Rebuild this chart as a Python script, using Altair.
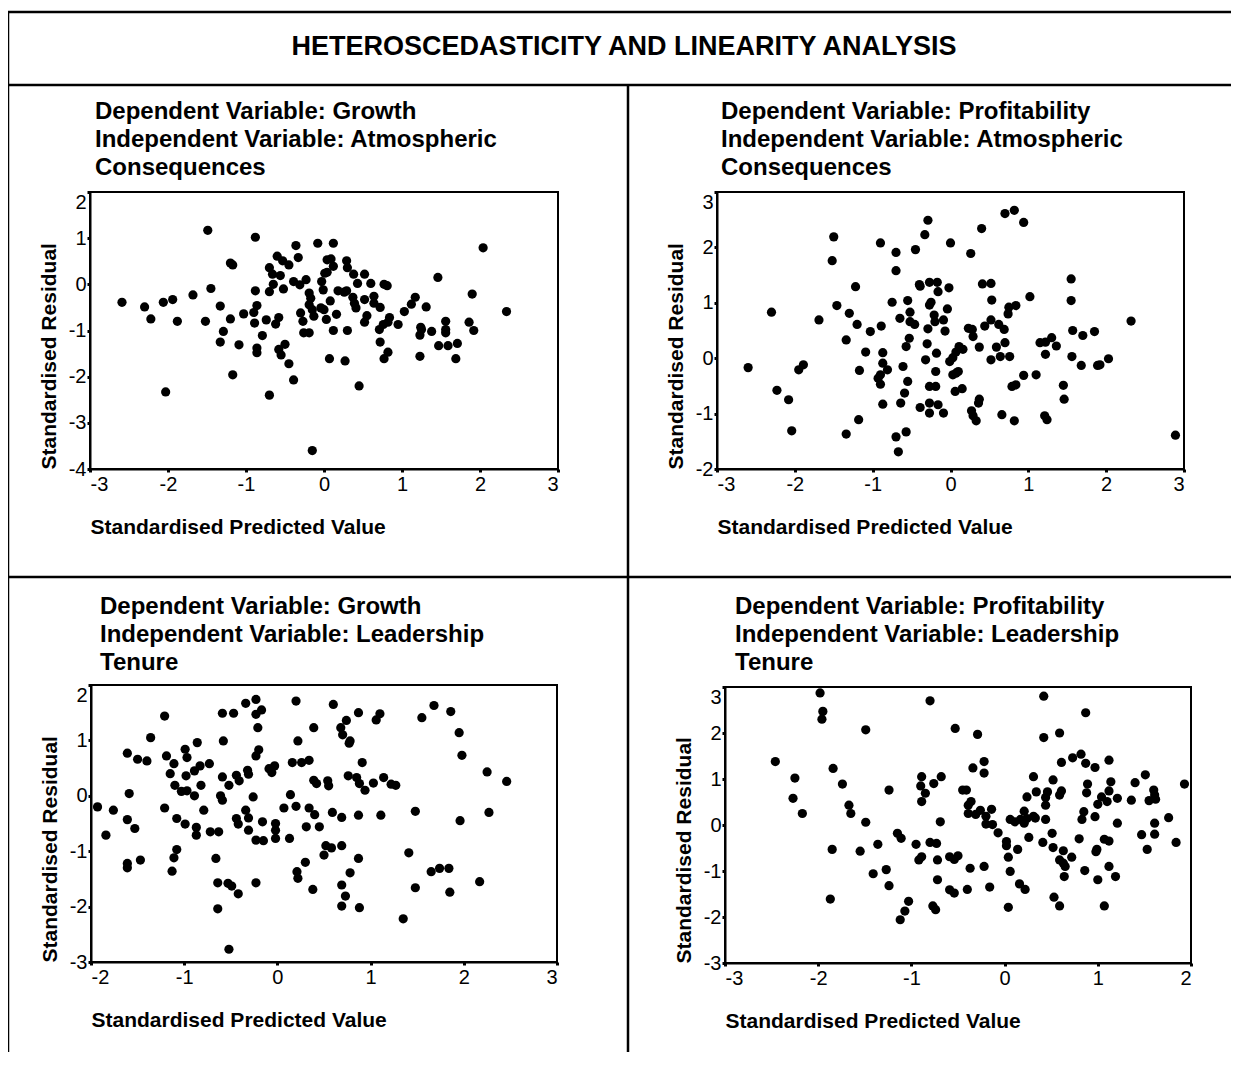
import altair as alt
import pandas as pd

# ---------------- data ----------------
# Panel 1: Dependent Growth, Independent Atmospheric Consequences
p1_x = [-2.59, -2.30, -2.22, -2.06, -1.94, -1.88, -2.03, -1.68, -1.52, -1.45, -1.49, -1.33, -1.29, -1.33,
        -1.20, -1.20, -1.17, -1.09, -1.17, -1.03, -0.88, -0.88, -0.86, -0.90, -0.89, -0.86, -0.86, -0.79,
        -0.74, -0.70, -0.70, -0.70, -0.66, -0.65, -0.60, -0.58, -0.62, -0.52, -0.56, -0.53, -0.45, -0.58,
        -0.55, -0.50, -0.45, -0.39, -0.36, -0.33, -0.39, -0.31, -0.23, -0.30, -0.27, -0.26, -0.19, -0.17,
        -0.19, -0.15, -0.13, -0.19, -0.15,
        -0.08, 0.12, 0.04, 0.09, 0.12, 0.01, 0.04, -0.03, -0.01, 0.08, -0.04, 0.00, 0.03, 0.16, 0.12, 0.30,
        0.29, 0.30, 0.38, 0.52, 0.43, 0.60, 0.77, 0.81, 0.18, 0.26, 0.29, 0.37, 0.39, 0.41, 0.52, 0.64, 0.64,
        0.72, 0.55, 0.52, 0.84, 0.82, 0.76, 0.71, 0.95, 0.72, 0.82, 0.77, 0.07, 0.27, 0.45, 1.03, 1.12, 1.17,
        1.31, 1.46, 1.24, 1.25, 1.23, 1.38, 1.56, 1.56, 1.56, 1.23, 1.47, 1.59, 1.71, 1.69, 1.86, 1.92, 1.90,
        2.04, 2.34]
p1_y = [-0.39, -0.49, -0.75, -0.39, -0.33, -0.80, -2.33, -0.23, -0.80, -0.09, 1.17, -0.47, -1.02, -1.25,
        -0.75, 0.46, 0.42, -1.31, -1.96, -0.64, 1.02, -0.14, -0.46, -0.61, -0.84, -1.38, -1.48, -1.11,
        -0.77, -2.40, -0.16, 0.36, 0.22, 0.00, 0.61, -0.72, -0.86, -0.10, 0.19, 0.51, 0.42, -1.41,
        -1.53, -1.30, -1.72, -2.07, 0.84, 0.58, 0.06, -0.01, 0.10, -0.62, -0.80, -1.05, -0.19, -0.30,
        -0.44, -0.55, -0.69, -1.05, -3.60,
        0.89, 0.89, 0.53, 0.55, 0.39, 0.24, 0.26, 0.06, -0.12, -0.36, -0.51, -0.55, -0.76, -0.65, -1.00, -1.00,
        0.51, 0.36, 0.22, 0.22, 0.02, 0.02, 0.00, -0.03, -0.14, -0.17, -0.14, -0.28, -0.41, -0.51, -0.33, -0.26,
        -0.41, -0.50, -0.68, -0.82, -0.72, -0.82, -0.87, -0.98, -0.87, -1.25, -1.47, -1.61, -1.61, -1.66, -2.20,
        -0.59, -0.43, -0.28, -0.49, 0.15, -0.93, -0.98, -1.10, -1.02, -0.80, -0.98, -1.05, -1.56, -1.33, -1.33,
        -1.28, -1.61, -0.82, -1.00, -0.21, 0.79, -0.59]

# Panel 2: Dependent Profitability, Independent Atmospheric Consequences
p2_x = [-2.60, -2.30, -2.23, -2.08, -2.04, -1.95, -1.89, -1.69, -1.52, -1.50, -1.46, -1.34, -1.34, -1.30,
        -1.22, -1.20, -1.17, -1.18, -1.09, -1.03, -0.90, -0.89, -0.93, -0.90, -0.90, -0.87, -0.87, -0.81,
        -0.87, -0.75, -0.70, -0.70, -0.65, -0.61, -0.57, -0.55, -0.59, -0.64, -0.70, -0.67, -0.57, -0.55,
        -0.52, -0.52, -0.46, -0.53, -0.45, -0.39, -0.40, -0.39, -0.33, -0.29, -0.27, -0.17, -0.16, -0.27,
        -0.25, -0.21, -0.20, -0.29, -0.30, -0.32, -0.18, -0.19, -0.27, -0.19, -0.27, -0.27, -0.16,
        0.00, 0.26, 0.40, 0.70, 0.82, 0.94, -0.09, -0.02, -0.04, -0.09, -0.07,
        -0.01, 0.03, 0.07, 0.11, 0.16, 0.03, 0.07, 0.10, 0.06, 0.15, 0.23, 0.28, 0.29, 0.37,
        0.41, 0.52, 0.53, 0.44, 0.52, 0.62, 0.69, 0.59, 0.64, 0.52, 0.76, 0.70, 0.75, 0.84, 0.74, 1.02,
        0.37, 0.36, 0.27, 0.29, 0.33, 0.66, 0.82, 0.79, 0.84, 0.94, 1.10, 1.15, 1.22, 1.30, 1.36, 1.22,
        1.21, 1.24, 1.45, 1.46, 1.55, 1.55, 1.57, 1.70, 1.56, 1.68, 1.85, 1.89, 1.92, 2.03, 2.32, 2.89]
p2_y = [-0.17, 0.83, -0.58, -0.75, -1.31, -0.21, -0.12, 0.69, 1.76, 2.19, 0.95, 0.33, -1.37, 0.81,
        1.29, 0.61, -0.22, -1.11, 0.11, 0.48, 2.08, 0.58, -0.36, -0.30, -0.47, 0.10, -0.09, -0.21,
        -0.83, 1.01, 1.91, 1.58, 0.72, -0.15, 0.21, -0.42, -0.63, -0.81, -1.42, -1.69, -1.33, 1.04,
        0.83, 0.66, 0.61, 0.36, 1.96, -0.89, 1.33, 1.30, 2.23, 2.49, 1.37, 1.37, 1.20, 0.96,
        1.01, 0.78, 0.66, 0.53, 0.26, -0.03, 0.09, -0.24, -0.51, -0.51, -0.81, -0.99, -0.84,
        2.08, 1.89, 2.34, 2.61, 2.67, 2.45, -0.99, 1.27, 0.89, 0.69, 0.49,
        -0.06, 0.01, 0.11, 0.21, 0.16, -0.30, -0.27, -0.24, -0.60, -0.55, 0.54, 0.52, 0.39, 0.20,
        1.34, 1.35, 1.05, 0.58, 0.69, 0.61, 0.52, 0.20, 0.03, -0.03, 0.03, 0.28, 0.92, 0.95, 0.80, 1.11,
        -0.74, -0.81, -0.95, -1.04, -1.13, -1.02, -1.13, -0.51, -0.48, -0.31, -0.30, 0.28, 0.29, 0.37, 0.22, 0.07,
        -1.04, -1.11, -0.49, -0.74, 1.43, 1.04, 0.50, 0.41, 0.03, -0.13, 0.48, -0.13, -0.12, -0.01, 0.67, -1.39]

# Panel 3: Dependent Growth, Independent Leadership Tenure
p3_x = [-1.93, -1.84, -1.76, -1.61, -1.59, -1.61, -1.53, -1.61, -1.61, -1.50, -1.40, -1.47, -1.36, -1.21,
        -1.19, -1.11, -1.15, -1.10, -1.21, -1.08, -1.08, -1.11, -1.13, -0.99, -0.97, -0.98, -1.03, -0.97,
        -0.89, -0.99, -0.86, -0.89, -0.83, -0.82, -0.79, -0.87, -0.87, -0.73, -0.72, -0.63, -0.66, -0.64,
        -0.64, -0.59, -0.58, -0.59, -0.61, -0.59, -0.52, -0.53, -0.49, -0.42, -0.52, -0.47, -0.44, -0.41,
        -0.44, -0.42, -0.34, -0.32, -0.31, -0.34, -0.31, -0.31, -0.26, -0.23, -0.23, -0.17, -0.21, -0.23,
        -0.20, -0.23, -0.15, -0.23, -0.16, -0.09, -0.06, -0.03, -0.02, -0.02, -0.02, 0.07, 0.13, 0.14,
        0.16, 0.20, 0.22, 0.20, 0.21, 0.22, 0.26, 0.34, 0.30, 0.31, 0.34, 0.40, 0.39, 0.39, 0.42, 0.38,
        0.45, 0.60, 0.68, 0.70, 0.74, 0.77, 0.78, 0.87, 1.06, 1.10, 0.91, 0.76, 0.85, 0.88, 0.94, 1.03,
        0.54, 0.55, 1.14, 1.22, 1.27, 0.59, 0.69, 0.87, 1.11, 0.52, 0.58, 0.69, 0.50, 0.87, 0.78, 0.69,
        0.73, 0.69, 0.88, 1.48, 1.41, 1.48, 1.35, 1.55, 1.68, 1.86, 1.95, 1.98, 1.96, 1.65, 1.74, 1.84,
        1.85, 2.17, 2.25, 2.27, 2.46]
p3_y = [-0.20, -0.71, -0.26, 0.77, 0.04, -0.43, -0.59, -1.22, -1.30, 0.66, 0.63, -1.16, 1.05, 1.44,
        0.72, 0.58, 0.40, 0.19, -0.22, -0.41, -0.97, -1.12, -1.36, 0.84, 0.69, 0.36, 0.08, 0.09,
        0.00, -0.51, 0.96, 0.45, 0.54, 0.19, -0.26, -0.57, -0.71, 0.58, -0.65, -0.65, -1.13, -1.57,
        -2.04, 1.49, 0.99, 0.34, 0.00, -0.08, 0.19, -1.58, -1.63, -1.77, -2.77, 1.49, 0.37, 0.27,
        -0.41, -0.51, 1.67, 0.46, 0.39, -0.26, -0.40, -0.62, -0.02, 1.74, 1.47, 1.55, 1.23, 0.72,
        0.83, -0.80, -0.81, -1.57, -0.47, 0.49, 0.42, 0.54, -0.50, -0.62, -0.77, -0.22, -0.77, 0.02,
        0.60, 1.71, 0.99, -0.19, -1.37, -1.49, 0.60, 0.64, -1.20, -0.56, -0.22, -0.34, 1.23, 0.28, 0.22, -1.69,
        -0.56, 1.65, 1.23, 1.10, 1.36, 0.95, 0.99, 1.50, 1.37, 1.48, 0.60, 0.36, 0.33, 0.22, 0.10, 0.23,
        0.27, 0.18, 0.33, 0.21, 0.19, -0.30, -0.39, -0.35, -0.35, -0.90, -0.94, -0.90, -1.07, -1.13, -1.39, -1.61,
        -1.81, -1.99, -2.02, -0.28, -1.03, -1.66, -2.22, 1.41, 1.63, 1.52, 1.14, 0.73, -0.45, -1.37, -1.31, -1.31,
        -1.74, -1.55, 0.43, -0.30, 0.26]

# Panel 4: Dependent Profitability, Independent Leadership Tenure
p4_x = [-2.46, -2.25, -2.27, -2.17, -1.98, -1.95, -1.96, -1.84, -1.85, -1.87, -1.74, -1.67, -1.65, -1.49,
        -1.49, -1.55, -1.41, -1.36, -1.27, -1.24, -1.24, -1.15, -1.11, -1.03, -1.07, -1.12, -0.95, -0.92,
        -0.89, -0.89, -0.90, -0.85, -0.89, -0.80, -0.76, -0.80, -0.73, -0.72, -0.72, -0.77, -0.74,
        -0.68, -0.69, -0.53, -0.29, -0.22, -0.22, -0.34, -0.45, -0.41, -0.36, -0.39, -0.39, -0.31, -0.26,
        -0.20, -0.14, -0.20, -0.13, -0.07, -0.59, -0.54, -0.50, -0.37, -0.22, -0.59, -0.54, -0.40, -0.16,
        0.02, 0.02, 0.04, 0.06, 0.04, 0.14, 0.16, 0.22, 0.06, 0.11, 0.17, 0.21, 0.24, 0.31, 0.33, 0.21,
        0.24, 0.31, 0.34, 0.26, 0.42, 0.42, 0.44, 0.44, 0.46, 0.44, 0.41, 0.52, 0.51, 0.52, 0.59, 0.61,
        0.61, 0.59, 0.63, 0.59, 0.63, 0.65, 0.64, 0.72, 0.53, 0.59, 0.73, 0.82, 0.87, 0.87, 0.89, 0.88,
        0.85, 0.83, 0.80, 0.86, 0.97, 1.00, 1.04, 0.97, 0.99, 0.98, 1.00, 1.07, 1.12, 1.14, 1.12, 1.10,
        1.07, 1.12, 1.12, 1.19, 1.21, 1.21, 1.36, 1.40, 1.51, 1.47, 1.53, 1.60, 1.61, 1.55, 1.62, 1.61,
        1.61, 1.76, 1.84, 1.93]
p4_y = [1.38, 1.02, 0.58, 0.25, 2.87, 2.47, 2.30, 1.23, -0.53, -1.61, 0.89, 0.43, 0.25, 2.07,
        0.06, -0.57, -1.06, -0.42, -0.97, -1.32, 0.76, -0.18, -0.29, -1.66, -1.87, -2.06, -0.42, -0.76,
        -0.69, 1.05, 0.85, 0.69, 0.51, 2.70, 0.90, -0.38, -0.40, -0.76, -1.19, -1.76, -1.84,
        1.05, 0.07, 2.10, 1.97, 1.38, 1.13, 1.24, 0.76, 0.76, 0.51, 0.43, 0.25, 0.23, 0.32,
        0.19, 0.34, 0.02, 0.01, -0.17, -0.69, -0.75, -0.67, -0.94, -0.90, -1.41, -1.48, -1.40, -1.35,
        -0.36, -0.45, -0.70, -1.01, -1.79, -0.53, -1.28, -1.40, 0.12, 0.07, 0.12, 0.30, 0.14, 0.19, 0.15, 0.04,
        0.61, 1.05, 0.72, -0.27, 2.80, 1.90, 0.60, 0.43, 0.72, 0.12, -0.38, 0.98, -0.18, -0.49, 2.00, 1.36,
        0.74, 0.65, -0.56, -0.76, -0.83, -0.90, -1.12, -0.70, -1.57, -1.76, 1.46, 1.54, 2.44, 1.34, 0.89, 0.70,
        0.29, 0.12, -0.30, -0.99, 1.25, 0.45, 0.61, 0.18, -0.53, -0.58, -1.19, -1.76, 1.41, 0.94, 0.74, 0.51,
        -0.31, -0.35, -0.90, -1.12, 0.58, 0.04, 0.54, 0.92, 1.09, -0.21, -0.53, 0.76, 0.65, 0.53, 0.56, 0.04,
        -0.20, 0.16, -0.38, 0.89]

main_title = "HETEROSCEDASTICITY AND LINEARITY ANALYSIS"
subtitles = [
    ["Dependent Variable: Growth", "Independent Variable: Atmospheric", "Consequences"],
    ["Dependent Variable: Profitability", "Independent Variable: Atmospheric", "Consequences"],
    ["Dependent Variable: Growth", "Independent Variable: Leadership", "Tenure"],
    ["Dependent Variable: Profitability", "Independent Variable: Leadership", "Tenure"],
]
x_title = "Standardised Predicted Value"
y_title = "Standardised Residual"

# ---------------- layout (page pixels) ----------------
FONT = "Liberation Sans"
W, H = 1223, 1044
M = 8


def c(v):
    return v - M


def panel(xs, ys, xdom, ydom, left, right, top, bottom):
    xt = list(range(xdom[0], xdom[1] + 1))
    yt = list(range(ydom[0], ydom[1] + 1))
    xsc = alt.Scale(domain=xdom, range=[c(left), c(right)], nice=False, zero=False)
    ysc = alt.Scale(domain=ydom, range=[c(bottom), c(top)], nice=False, zero=False)
    xax = alt.Axis(orient="bottom", offset=c(bottom) - H, values=xt, labelExpr="'' + datum.value",
                   title=x_title, titleX=c(left), titleY=58, titleAlign="left", titleBaseline="middle",
                   titleFontSize=21, titleFontWeight="bold", labelFontSize=20, labelPadding=2,
                   tickSize=3, tickWidth=3, domainWidth=2, grid=False)
    yax = alt.Axis(orient="left", offset=-c(left), values=yt, labelExpr="'' + datum.value",
                   labelBaseline={"condition": {"test": f"datum.value == {ydom[1]}", "value": "top"},
                                  "value": "middle"},
                   title=y_title, titleX=-41, titleY=c(bottom), titleAngle=270, titleAlign="left",
                   titleBaseline="middle", titleFontSize=21, titleFontWeight="bold",
                   labelFontSize=20, labelPadding=1, tickSize=3, tickWidth=3, domainWidth=2, grid=False)
    df = pd.DataFrame({"x": xs, "y": ys})
    pts = alt.Chart(df).mark_circle(size=85, color="black", opacity=1).encode(
        x=alt.X("x:Q", scale=xsc, axis=xax),
        y=alt.Y("y:Q", scale=ysc, axis=yax),
    )
    frame_df = pd.DataFrame({"x": [xdom[0]], "x2": [xdom[1]], "y": [ydom[0]], "y2": [ydom[1]]})
    frame = alt.Chart(frame_df).mark_rect(filled=False, stroke="black", strokeWidth=2).encode(
        x=alt.X("x:Q", scale=xsc, axis=xax),
        x2="x2:Q",
        y=alt.Y("y:Q", scale=ysc, axis=yax),
        y2="y2:Q",
    )
    return alt.layer(frame, pts)


p1 = panel(p1_x, p1_y, [-3, 3], [-4, 2], 90, 558, 192, 469)
p2 = panel(p2_x, p2_y, [-3, 3], [-2, 3], 717, 1184, 192, 469)
p3 = panel(p3_x, p3_y, [-2, 3], [-3, 2], 91, 557, 685, 962)
p4 = panel(p4_x, p4_y, [-3, 2], [-3, 3], 725, 1191, 687, 963)

# border / divider lines of the table
rules_df = pd.DataFrame({
    "x1": [c(7), c(8), c(8), c(628), c(8)],
    "x2": [W, c(8), W, c(628), W],
    "y1": [c(12), c(12), c(85), c(85), c(577)],
    "y2": [c(12), H, c(85), H, c(577)],
})
rules = alt.Chart(rules_df).mark_rule(color="black", strokeWidth=2.5).encode(
    x=alt.X("x1:Q", scale=None, axis=None), x2="x2:Q",
    y=alt.Y("y1:Q", scale=None, axis=None), y2="y2:Q",
)

# main title
title_df = pd.DataFrame({"t": [main_title], "px": [c(624)], "py": [c(47)]})
title = alt.Chart(title_df).mark_text(font=FONT, fontSize=27, fontWeight="bold", align="center",
                                      baseline="middle", color="black").encode(
    x=alt.X("px:Q", scale=None, axis=None), y=alt.Y("py:Q", scale=None, axis=None), text="t:N")

# panel subtitles
sub_rows = []
anchors = [(95, 112), (721, 112), (100, 607), (735, 607)]
for (ax, ay), lines in zip(anchors, subtitles):
    for i, ln in enumerate(lines):
        sub_rows.append({"t": ln, "px": c(ax), "py": c(ay + 28 * i)})
sub_df = pd.DataFrame(sub_rows)
subs = alt.Chart(sub_df).mark_text(font=FONT, fontSize=24, fontWeight="bold", align="left",
                                   baseline="middle", color="black").encode(
    x=alt.X("px:Q", scale=None, axis=None), y=alt.Y("py:Q", scale=None, axis=None), text="t:N")

chart = alt.layer(rules, title, subs, p1, p2, p3, p4).resolve_scale(
    x="independent", y="independent"
).resolve_axis(x="independent", y="independent").properties(
    width=W, height=H, padding=0, autosize=alt.AutoSizeParams(type="none")
).configure_view(stroke=None).configure_axis(
    labelFont=FONT, titleFont=FONT, labelColor="black", titleColor="black",
    domainColor="black", tickColor="black"
).configure_text(font=FONT)

chart.save("out.html", embed_options={"renderer": "svg", "actions": False})
